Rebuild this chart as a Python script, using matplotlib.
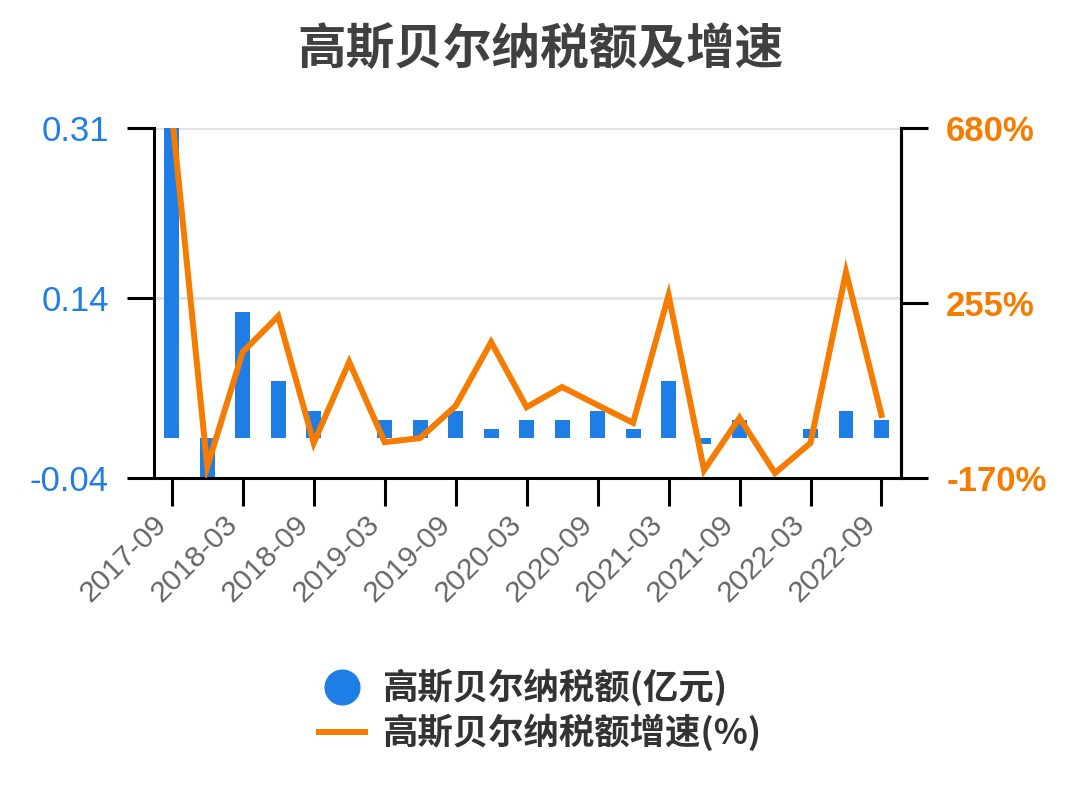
import matplotlib
matplotlib.use("Agg")
import matplotlib.pyplot as plt
import matplotlib.transforms as mtransforms
from matplotlib.lines import Line2D

categories = ["2017-09", "2017-12", "2018-03", "2018-06", "2018-09", "2018-12",
              "2019-03", "2019-06", "2019-09", "2019-12", "2020-03", "2020-06",
              "2020-09", "2020-12", "2021-03", "2021-06", "2021-09", "2021-12",
              "2022-03", "2022-06", "2022-09"]
tax_values = [0.31, -0.04, 0.126, 0.057, 0.027, 0.0, 0.018, 0.018, 0.027, 0.009,
              0.018, 0.018, 0.027, 0.009, 0.057, -0.006, 0.018, 0.0, 0.009, 0.027, 0.018]
growth_values = [720, -143, 136, 223, -85, 112, -83, -73, 5, 160, 2, 51, 7, -36,
                 274, -151, -24, -158, -85, 330, -17]
left_ticks = [-0.04, 0.14, 0.31]
left_ticklabels = ["-0.04", "0.14", "0.31"]
right_ticks = [-170, 255, 680]
right_ticklabels = ["-170%", "255%", "680%"]

title = "高斯贝尔纳税额及增速"
bar_label = "高斯贝尔纳税额(亿元)"
line_label = "高斯贝尔纳税额增速(%)"

BLUE = "#1f7ee6"
ORANGE = "#f57c00"

plt.rcParams['font.family'] = ['Liberation Sans', 'Noto Sans CJK SC', 'DejaVu Sans']

fig = plt.figure(figsize=(10.8, 8.1), dpi=100)
ax = fig.add_axes([154/1080, 1-478/810, (901-154)/1080, (478-128)/810])
x = list(range(len(categories)))

ax.bar(x, tax_values, width=0.42, color=BLUE, zorder=2)
ax.set_ylim(-0.04, 0.31)
ax.set_xlim(-0.5, 20.55)
ax.set_yticks(left_ticks)
ax.set_yticklabels(left_ticklabels)
for t in [0.14, 0.31]:
    ax.axhline(t, color="#e3e3e3", lw=2.2, zorder=1)

ax.set_xticks(x[::2])
ax.set_xticklabels(categories[::2], rotation=45, ha="right", color="#666666",
                   fontsize=21.5)
offset = mtransforms.ScaledTranslation(5/100, -2/100, fig.dpi_scale_trans)
for lab in ax.get_xticklabels():
    lab.set_transform(lab.get_transform() + offset)

for s in ["top"]:
    ax.spines[s].set_visible(False)
for s in ["left", "bottom", "right"]:
    ax.spines[s].set_linewidth(2.2)
    ax.spines[s].set_color("black")
ax.tick_params(axis="y", length=19.5, width=2.2, pad=13, labelsize=25, labelcolor=BLUE)
ax.tick_params(axis="x", length=20, width=2.2, pad=3)

ax2 = ax.twinx()
ax2.plot(x, growth_values, color=ORANGE, lw=4.3, solid_joinstyle="miter", zorder=3)
ax2.set_ylim(-170, 680)
ax2.set_yticks(right_ticks)
ax2.set_yticklabels(right_ticklabels, fontweight="bold")
ax2.tick_params(axis="y", length=19.5, width=2.2, pad=13, labelsize=25, labelcolor=ORANGE)
ax2.spines["top"].set_visible(False)
ax2.spines["right"].set_linewidth(2.2)
ax2.spines["left"].set_visible(False)
ax2.spines["bottom"].set_visible(False)

fig.text(0.5, 1-50/810, title, ha="center", va="center", fontsize=35,
         fontweight="bold", color="#404040",
         family=['Noto Sans CJK SC', 'DejaVu Sans'])

handles = [Line2D([0], [0], marker="o", color=BLUE, lw=0, markersize=25),
           Line2D([0], [0], color=ORANGE, lw=4.3)]
leg = fig.legend(handles, [bar_label, line_label], loc="center",
                 bbox_to_anchor=(0.5, 1-710/810), frameon=False, ncol=1,
                 handlelength=1.3, handletextpad=0.5, labelspacing=0.2,
                 prop={'family': ['Noto Sans CJK SC', 'DejaVu Sans'],
                       'weight': 'bold', 'size': 25.5})
for t in leg.get_texts():
    t.set_color("#333333")

fig.savefig("out.png", dpi=100)
